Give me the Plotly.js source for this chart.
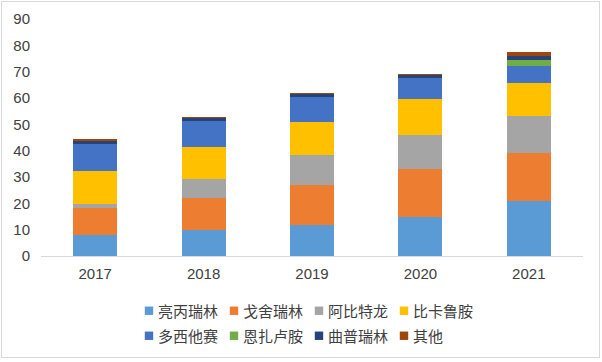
<!DOCTYPE html>
<html>
<head>
<meta charset="utf-8">
<script src="https://cdn.plot.ly/plotly-3.0.1.min.js"></script>
<style>
html,body{margin:0;padding:0;background:#fff;}
#frame{position:absolute;left:1px;top:1px;width:597px;height:355px;border:1px solid #d9d9d9;}
#chart{position:absolute;left:0;top:0;width:602px;height:362px;}
</style>
</head>
<body>
<div id="frame"></div>
<div id="chart"></div>
<script>
const years = ['2017', '2018', '2019', '2020', '2021'];
const seriesNames = ['亮丙瑞林', '戈舍瑞林', '阿比特龙', '比卡鲁胺', '多西他赛', '恩扎卢胺', '曲普瑞林', '其他'];
const leuprorelin = [8.0, 9.9, 11.8, 14.7, 21.0];
const goserelin = [10.4, 12.3, 15.0, 18.2, 18.2];
const abiraterone = [1.5, 7.0, 11.6, 13.1, 14.0];
const bicalutamide = [12.4, 12.3, 12.6, 13.5, 12.6];
const docetaxel = [10.2, 9.8, 9.5, 8.0, 6.5];
const enzalutamide = [0, 0, 0, 0, 2.1];
const triptorelin = [1.0, 1.2, 1.0, 1.2, 1.6];
const others = [0.9, 0.4, 0.4, 0.4, 1.6];
const yTicks = [0, 10, 20, 30, 40, 50, 60, 70, 80, 90];

const seriesValues = [leuprorelin, goserelin, abiraterone, bicalutamide, docetaxel, enzalutamide, triptorelin, others];
const colors = ['#5B9BD5', '#ED7D31', '#A5A5A5', '#FFC000', '#4472C4', '#70AD47', '#264478', '#9E480E'];

const traces = seriesNames.map((name, i) => ({
  type: 'bar',
  name: name,
  x: years,
  y: seriesValues[i],
  legend: i < 4 ? 'legend' : 'legend2',
  marker: {color: colors[i], line: {width: 0}},
  hoverinfo: 'none'
}));

const legendBase = {
  orientation: 'h',
  xref: 'container',
  yref: 'container',
  x: 0.196,
  xanchor: 'left',
  yanchor: 'middle',
  traceorder: 'normal',
  entrywidth: 40,
  entrywidthmode: 'pixels',
  font: {family: 'Noto Sans CJK SC, sans-serif', size: 15, color: '#404040'},
  bgcolor: 'rgba(0,0,0,0)'
};

const layout = {
  width: 602,
  height: 362,
  barmode: 'stack',
  bargap: 0.594,
  margin: {l: 41, r: 19, t: 19, b: 106},
  paper_bgcolor: 'rgba(0,0,0,0)',
  plot_bgcolor: 'rgba(0,0,0,0)',
  font: {family: 'Liberation Sans, Arial, sans-serif', size: 15, color: '#404040'},
  xaxis: {
    type: 'category',
    showline: true,
    linecolor: '#d9d9d9',
    linewidth: 1,
    ticks: '',
    ticklabelstandoff: 4,
    tickfont: {size: 15, color: '#404040'},
    showgrid: false,
    zeroline: false
  },
  yaxis: {
    range: [0, 90],
    tickvals: yTicks,
    ticktext: yTicks.map(String),
    showgrid: false,
    zeroline: false,
    showline: false,
    ticks: '',
    ticklabelstandoff: 10,
    tickfont: {size: 15, color: '#404040'}
  },
  showlegend: true,
  legend: Object.assign({}, legendBase, {y: 1 - 311 / 362}),
  legend2: Object.assign({}, legendBase, {y: 1 - 336 / 362})
};

Plotly.newPlot('chart', traces, layout, {displayModeBar: false, staticPlot: true}).then(gd => {
  gd.querySelectorAll('.legendpoints path').forEach(p => {
    p.setAttribute('transform', 'translate(31,0) scale(0.7)');
  });
  gd.querySelectorAll('.legend .scrollbox, .legend2 .scrollbox, g.legend [clip-path]').forEach(el => {
    el.removeAttribute('clip-path');
  });
});
</script>
</body>
</html>
